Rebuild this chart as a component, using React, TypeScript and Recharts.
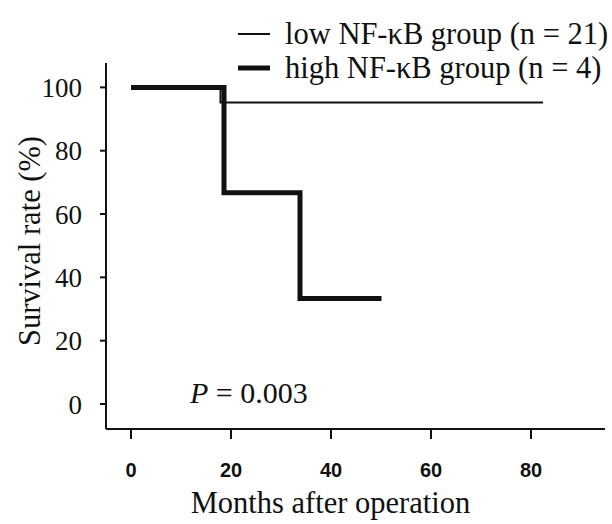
import { LineChart, Line, XAxis, YAxis, Legend, ReferenceDot } from 'recharts';

// Kaplan-Meier steps (months, survival %)
const lowMonths = [0, 17.9, 82.4];
const lowRates = [100, 95.2, 95.2];
const highMonths = [0, 18.6, 33.8, 50.1];
const highRates = [100, 66.7, 33.3, 33.3];

const xTicks = [0, 20, 40, 60, 80];
const yTicks = [0, 20, 40, 60, 80, 100];

const legendItems = [
    { name: 'low NF-κB group (n = 21)', width: 2 },
    { name: 'high NF-κB group (n = 4)', width: 5 },
];

const pValueAt = { month: 12, rate: 0 };

const lowData = lowMonths.map((m, i) => ({ month: m, rate: lowRates[i] }));
const highData = highMonths.map((m, i) => ({ month: m, rate: highRates[i] }));

const serif = '"Liberation Serif", "Times New Roman", serif';
const sans = '"Liberation Sans", Arial, sans-serif';

function LegendBox() {
    return (
        <div style={{ fontFamily: serif, fontSize: 30.5, color: '#111' }}>
            {legendItems.map((item) => (
                <div key={item.name} style={{ display: 'flex', alignItems: 'center', height: 34, whiteSpace: 'nowrap' }}>
                    <svg width={32} height={10} style={{ marginRight: 15 }}>
                        <line x1={0} y1={5} x2={32} y2={5} stroke="#111" strokeWidth={item.width} />
                    </svg>
                    <span>{item.name}</span>
                </div>
            ))}
        </div>
    );
}

export default function App() {
    return (
        <div style={{ position: 'absolute', left: 0, top: 0, background: '#fff' }}>
            <LineChart width={612} height={524} margin={{ top: 63, right: 7, bottom: 0, left: 0 }}>
                <XAxis
                    type="number"
                    dataKey="month"
                    domain={[-5, 94.8]}
                    ticks={xTicks}
                    height={95}
                    axisLine={{ stroke: '#111', strokeWidth: 2 }}
                    tickLine={{ stroke: '#111', strokeWidth: 2 }}
                    tickSize={10}
                    tickMargin={24}
                    tick={{ fill: '#111', fontFamily: sans, fontSize: 20, fontWeight: 'bold' }}
                    label={{
                        content: ({ viewBox }: any) => (
                            <text x={viewBox.x + viewBox.width / 2 - 25} y={viewBox.y + 84} textAnchor="middle"
                                fontFamily={serif} fontSize={30.5} fill="#111">
                                Months after operation
                            </text>
                        ),
                    }}
                />
                <YAxis
                    type="number"
                    dataKey="rate"
                    domain={[-7.9, 107.7]}
                    ticks={yTicks}
                    width={106}
                    axisLine={{ stroke: '#111', strokeWidth: 2 }}
                    tickLine={{ stroke: '#111', strokeWidth: 2 }}
                    tickSize={6}
                    tickMargin={18}
                    tick={{ fill: '#111', fontFamily: serif, fontSize: 27 }}
                    label={{
                        content: ({ viewBox }: any) => {
                            const cx = 30;
                            const cy = viewBox.y + viewBox.height / 2 - 5;
                            return (
                                <text x={cx} y={cy} textAnchor="middle" dominantBaseline="central"
                                    transform={`rotate(-90, ${cx}, ${cy})`}
                                    fontFamily={serif} fontSize={30.5} fill="#111">
                                    Survival rate (%)
                                </text>
                            );
                        },
                    }}
                />
                <Legend
                    layout="horizontal"
                    verticalAlign="middle"
                    align="center"
                    wrapperStyle={{ top: 17, left: 238, width: 374 }}
                    content={() => <LegendBox />}
                />
                <Line
                    data={lowData}
                    dataKey="rate"
                    type="stepAfter"
                    stroke="#111"
                    strokeWidth={2}
                    dot={false}
                    isAnimationActive={false}
                />
                <Line
                    data={highData}
                    dataKey="rate"
                    type="stepAfter"
                    stroke="#111"
                    strokeWidth={5}
                    strokeLinejoin="miter"
                    dot={false}
                    isAnimationActive={false}
                />
                <ReferenceDot
                    x={pValueAt.month}
                    y={pValueAt.rate}
                    r={1}
                    fill="none"
                    stroke="none"
                    label={{
                        content: ({ viewBox }: any) => (
                            <text x={viewBox.x} y={viewBox.y} fontFamily={serif} fontSize={30} fill="#111">
                                <tspan fontStyle="italic">P</tspan> = 0.003
                            </text>
                        ),
                    }}
                />
            </LineChart>
        </div>
    );
}
